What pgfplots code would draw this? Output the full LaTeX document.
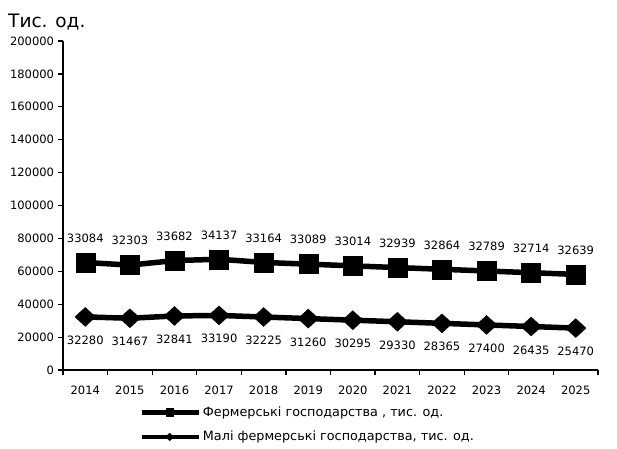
\documentclass[border=0pt]{standalone}
\usepackage{pgfplots}
\pgfplotsset{compat=1.18}
\usepackage{fontspec}
\setmainfont{DejaVu Sans}
\begin{document}
\fontsize{11.5pt}{13pt}\selectfont
\begin{tikzpicture}
\begin{axis}[
    name=ax,
    scale only axis,
    width=535pt, height=329pt,
    xmin=-0.5, xmax=11.5,
    ymin=0, ymax=200000,
    clip=false,
    stack plots=y,
    axis x line*=bottom,
    axis y line*=left,
    axis line style={line width=1.3pt},
    xtick={-0.5,0.5,...,11.5},
    x tick label as interval,
    xticklabels={2014,2015,2016,2017,2018,2019,2020,2021,2022,2023,2024,2025},
    ytick={0,20000,...,200000},
    scaled y ticks=false,
    yticklabel style={/pgf/number format/.cd,fixed,1000 sep={}},
    /pgf/number format/assume math mode=true,
    tick align=outside,
    major tick length=5pt,
    tick style={line width=1.2pt,black},
    xticklabel style={yshift=-7pt},
    reverse legend,
    legend style={at={(0.1425,-0.105)}, anchor=north west, draw=none,
      inner sep=0pt, row sep=9pt, cells={anchor=west},
      font=\fontsize{12.8pt}{14pt}\selectfont},
    legend image code/.code={
      \draw[mark repeat=2,mark phase=2,#1,line width=4.5pt,every mark/.append style={scale=0.4}]
        plot coordinates {(0pt,0pt) (28pt,0pt) (57pt,0pt)};
    },
    every node near coord/.append style={black, font=\fontsize{11.5pt}{13pt}\selectfont},
  ]
  % Малі фермерські господарства (нижній ряд)
  \addplot[black, line width=5.5pt, mark=diamond*, mark size=9.5pt,
    mark options={solid, line width=0.4pt, xscale=1.45},
    nodes near coords, point meta=explicit symbolic,
    every node near coord/.append style={anchor=north, yshift=-15pt}]
    table[x=x, y=y, meta=y] {
      x y
      0 32280
      1 31467
      2 32841
      3 33190
      4 32225
      5 31260
      6 30295
      7 29330
      8 28365
      9 27400
      10 26435
      11 25470
    };
  % Фермерські господарства (накопичено зверху)
  \addplot[black, line width=5.5pt, mark=square*, mark size=9.5pt,
    mark options={solid, line width=0.4pt},
    nodes near coords, point meta=explicit symbolic,
    every node near coord/.append style={anchor=south, yshift=16pt}]
    table[x=x, y=y, meta=y] {
      x y
      0 33084
      1 32303
      2 33682
      3 34137
      4 33164
      5 33089
      6 33014
      7 32939
      8 32864
      9 32789
      10 32714
      11 32639
    };
  \legend{{Малі фермерські господарства, тис. од.},
          {Фермерські господарства , тис. од.}}
  \node[anchor=base west, inner sep=0pt, font=\fontsize{18.5pt}{21pt}\selectfont]
    at ([shift={(-55pt,14pt)}]rel axis cs:0,1) {Тис. од.};
\end{axis}
\path ([shift={(-63pt,-78pt)}]ax.south west) rectangle ++(617pt,448pt);
\end{tikzpicture}
\end{document}
